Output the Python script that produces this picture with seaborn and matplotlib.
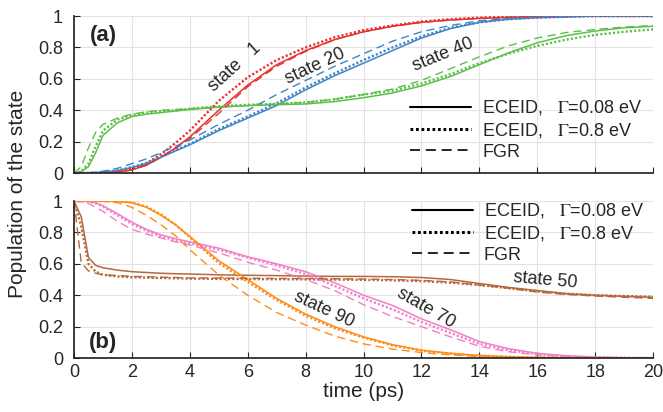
import matplotlib
matplotlib.use("Agg")
import matplotlib.pyplot as plt
from matplotlib.lines import Line2D
import seaborn as sns
import numpy as np
import pandas as pd

# time grid (ps) and populations
time = [0, 0.25, 0.5, 0.75, 1, 1.5, 2, 2.5, 3, 3.5, 4, 5, 6, 7, 8, 9, 10,
        11, 12, 13, 14, 15, 16, 17, 18, 19, 20]

# panel (a): rising populations
s1_g008 = [0, 0, 0, 0, 0.002, 0.006, 0.02, 0.05, 0.10, 0.16, 0.23, 0.40, 0.56, 0.69, 0.78, 0.85, 0.90,
           0.935, 0.96, 0.975, 0.985, 0.992, 0.996, 0.998, 1, 1, 1]
s1_g08 = [0, 0, 0, 0, 0.002, 0.008, 0.025, 0.06, 0.12, 0.19, 0.27, 0.46, 0.61, 0.72, 0.80, 0.865, 0.91,
          0.94, 0.965, 0.98, 0.99, 0.995, 0.998, 1, 1, 1, 1]
s1_fgr = [0, 0, 0, 0, 0.002, 0.006, 0.02, 0.05, 0.10, 0.155, 0.22, 0.38, 0.55, 0.68, 0.775, 0.85, 0.90,
          0.935, 0.96, 0.975, 0.985, 0.992, 0.996, 0.998, 1, 1, 1]

s20_g008 = [0, 0, 0, 0.002, 0.005, 0.015, 0.035, 0.06, 0.10, 0.14, 0.18, 0.27, 0.35, 0.43, 0.53, 0.62, 0.70,
            0.78, 0.86, 0.92, 0.96, 0.98, 0.99, 0.995, 1, 1, 1]
s20_g08 = [0, 0, 0, 0.002, 0.006, 0.017, 0.038, 0.065, 0.105, 0.145, 0.185, 0.28, 0.36, 0.445, 0.545, 0.635, 0.72,
           0.80, 0.87, 0.925, 0.96, 0.98, 0.99, 0.995, 1, 1, 1]
s20_fgr = [0, 0, 0.002, 0.006, 0.012, 0.03, 0.06, 0.09, 0.13, 0.17, 0.21, 0.31, 0.40, 0.50, 0.59, 0.68, 0.76,
           0.84, 0.90, 0.94, 0.97, 0.985, 0.993, 0.997, 1, 1, 1]

s40_g008 = [0, 0.01, 0.04, 0.13, 0.24, 0.32, 0.36, 0.375, 0.385, 0.395, 0.405, 0.42, 0.43, 0.435, 0.44, 0.455, 0.48,
            0.51, 0.555, 0.615, 0.69, 0.765, 0.83, 0.875, 0.905, 0.925, 0.935]
s40_g08 = [0, 0.01, 0.06, 0.17, 0.27, 0.34, 0.37, 0.385, 0.395, 0.40, 0.41, 0.425, 0.435, 0.44, 0.45, 0.47, 0.50,
           0.525, 0.57, 0.63, 0.70, 0.76, 0.81, 0.85, 0.88, 0.90, 0.915]
s40_fgr = [0, 0.04, 0.16, 0.26, 0.31, 0.35, 0.375, 0.39, 0.40, 0.405, 0.41, 0.42, 0.43, 0.44, 0.45, 0.47, 0.50,
           0.535, 0.59, 0.665, 0.74, 0.81, 0.86, 0.895, 0.915, 0.93, 0.94]

# panel (b): decaying populations
s50_g008 = [1, 0.90, 0.64, 0.59, 0.575, 0.56, 0.55, 0.545, 0.54, 0.537, 0.535, 0.53, 0.527, 0.525, 0.522, 0.52, 0.52,
            0.518, 0.513, 0.50, 0.475, 0.45, 0.43, 0.41, 0.40, 0.393, 0.387]
s50_g08 = [1, 0.84, 0.60, 0.55, 0.53, 0.52, 0.515, 0.512, 0.51, 0.508, 0.506, 0.504, 0.503, 0.502, 0.501, 0.50, 0.498,
           0.495, 0.49, 0.48, 0.465, 0.445, 0.425, 0.41, 0.40, 0.395, 0.39]
s50_fgr = [1, 0.61, 0.555, 0.54, 0.53, 0.525, 0.52, 0.518, 0.515, 0.513, 0.51, 0.51, 0.508, 0.507, 0.506, 0.505, 0.503,
           0.50, 0.495, 0.485, 0.465, 0.445, 0.42, 0.405, 0.395, 0.387, 0.38]

s70_g008 = [1, 1, 0.998, 0.99, 0.97, 0.92, 0.865, 0.82, 0.785, 0.76, 0.74, 0.70, 0.645, 0.60, 0.55, 0.48, 0.40,
            0.335, 0.25, 0.18, 0.105, 0.06, 0.03, 0.015, 0.006, 0.002, 0]
s70_g08 = [1, 1, 0.997, 0.985, 0.965, 0.91, 0.855, 0.81, 0.775, 0.75, 0.73, 0.69, 0.64, 0.59, 0.535, 0.46, 0.38,
           0.31, 0.23, 0.16, 0.09, 0.05, 0.025, 0.01, 0.004, 0.001, 0]
s70_fgr = [1, 0.995, 0.985, 0.96, 0.935, 0.87, 0.82, 0.79, 0.765, 0.74, 0.72, 0.67, 0.61, 0.56, 0.50, 0.43, 0.34,
           0.265, 0.20, 0.135, 0.075, 0.04, 0.02, 0.01, 0.003, 0, 0]

s90_g008 = [1, 1, 1, 1, 1, 0.998, 0.99, 0.96, 0.91, 0.85, 0.775, 0.62, 0.50, 0.38, 0.28, 0.20, 0.135,
            0.085, 0.05, 0.03, 0.016, 0.008, 0.004, 0.002, 0, 0, 0]
s90_g08 = [1, 1, 1, 1, 1, 0.998, 0.99, 0.965, 0.915, 0.85, 0.77, 0.605, 0.485, 0.37, 0.27, 0.19, 0.13,
           0.08, 0.047, 0.028, 0.015, 0.008, 0.004, 0.002, 0, 0, 0]
s90_fgr = [1, 1, 1, 1, 0.998, 0.99, 0.96, 0.91, 0.85, 0.78, 0.69, 0.53, 0.40, 0.29, 0.21, 0.14, 0.09,
           0.057, 0.035, 0.02, 0.01, 0.005, 0.002, 0, 0, 0, 0]

methods = ["g008", "g08", "fgr"]
panel_a = {"1": [s1_g008, s1_g08, s1_fgr],
           "20": [s20_g008, s20_g08, s20_fgr],
           "40": [s40_g008, s40_g08, s40_fgr]}
panel_b = {"50": [s50_g008, s50_g08, s50_fgr],
           "70": [s70_g008, s70_g08, s70_fgr],
           "90": [s90_g008, s90_g08, s90_fgr]}

colors = {"1": "#e8302f", "20": "#3d85c6", "40": "#5cbf4a",
          "50": "#b5683d", "70": "#f27fc8", "90": "#ff8c1a"}
dashes = {"g008": "", "g08": (0.9, 0.9), "fgr": (6, 3.5)}
widths = {"g008": 1.1, "g08": 1.7, "fgr": 1.0}


def to_long(panel):
    rows = []
    for st, curves in panel.items():
        for m, vals in zip(methods, curves):
            for t, v in zip(time, vals):
                rows.append((st, m, t, v))
    return pd.DataFrame(rows, columns=["state", "method", "time", "pop"])


sns.set_theme(style="ticks")
plt.rcParams["font.family"] = ["Liberation Sans Narrow", "Liberation Sans", "DejaVu Sans"]
plt.rcParams["mathtext.fontset"] = "stix"
plt.rcParams["axes.edgecolor"] = "#262626"
plt.rcParams["xtick.direction"] = "in"
plt.rcParams["ytick.direction"] = "in"

fig = plt.figure(figsize=(6.63, 4.12), dpi=100)
ax_a = fig.add_axes([0.1116, 0.580, 0.8734, 0.381])
ax_b = fig.add_axes([0.1116, 0.131, 0.8734, 0.381])

for ax, panel in [(ax_a, panel_a), (ax_b, panel_b)]:
    df = to_long(panel)
    for m in methods:
        sub = df[df["method"] == m]
        sns.lineplot(data=sub, x="time", y="pop", hue="state", palette=colors,
                     ax=ax, legend=False, linewidth=widths[m], estimator=None,
                     sort=False, units="state")
        for line in ax.get_lines()[-3:]:
            if dashes[m]:
                line.set_dashes(dashes[m])
    ax.set_xlim(0, 20)
    ax.set_ylim(0, 1)
    ax.set_xticks(range(0, 21, 2))
    ax.set_yticks([0, 0.2, 0.4, 0.6, 0.8, 1.0])
    ax.set_yticklabels(["0", "0.2", "0.4", "0.6", "0.8", "1"])
    ax.grid(True, color="#e3e3e3", linewidth=0.8)
    ax.set_axisbelow(True)
    ax.tick_params(labelsize=13, length=4, width=0.8, colors="#262626", pad=4)
    ax.tick_params(axis="y", pad=8)
    ax.set_xlabel("")
    ax.set_ylabel("")
    sns.despine(ax=ax)

ax_a.set_xticklabels([])
ax_b.set_xlabel("time (ps)", fontsize=15, labelpad=1)
fig.text(0.026, 0.53, "Population of the state", rotation=90, fontsize=15,
         ha="center", va="center")

ax_a.text(0.027, 0.84, "(a)", transform=ax_a.transAxes, fontsize=16, fontweight="bold")
ax_b.text(0.025, 0.065, "(b)", transform=ax_b.transAxes, fontsize=16, fontweight="bold")

# curve labels
ax_a.text(4.55, 0.52, "state   1", rotation=42, fontsize=13)
ax_a.text(7.2, 0.57, "state 20", rotation=25, fontsize=13)
ax_a.text(11.6, 0.65, "state 40", rotation=22, fontsize=13)
ax_b.text(15.15, 0.45, "state 50", rotation=-5, fontsize=13)
ax_b.text(11.05, 0.195, "state 70", rotation=-30, fontsize=13)
ax_b.text(7.5, 0.20, "state 90", rotation=-25, fontsize=13)

handles = [Line2D([], [], color="black", linewidth=1.5),
           Line2D([], [], color="black", linewidth=2.2, dashes=(0.9, 0.9)),
           Line2D([], [], color="black", linewidth=1.2, dashes=(6, 3.5))]
labels = [r"ECEID,   $\Gamma$=0.08 eV", r"ECEID,   $\Gamma$=0.8 eV", "FGR"]
ax_a.legend(handles, labels, loc="lower right", frameon=False, fontsize=13,
            handlelength=3.4, handletextpad=0.6, labelspacing=0.2,
            borderaxespad=0.2, bbox_to_anchor=(1.0, 0.01))
ax_b.legend(handles, labels, loc="upper right", frameon=False, fontsize=13,
            handlelength=3.4, handletextpad=0.6, labelspacing=0.2,
            borderaxespad=0.1, bbox_to_anchor=(1.0, 1.055))

fig.savefig("out.png", dpi=100)
